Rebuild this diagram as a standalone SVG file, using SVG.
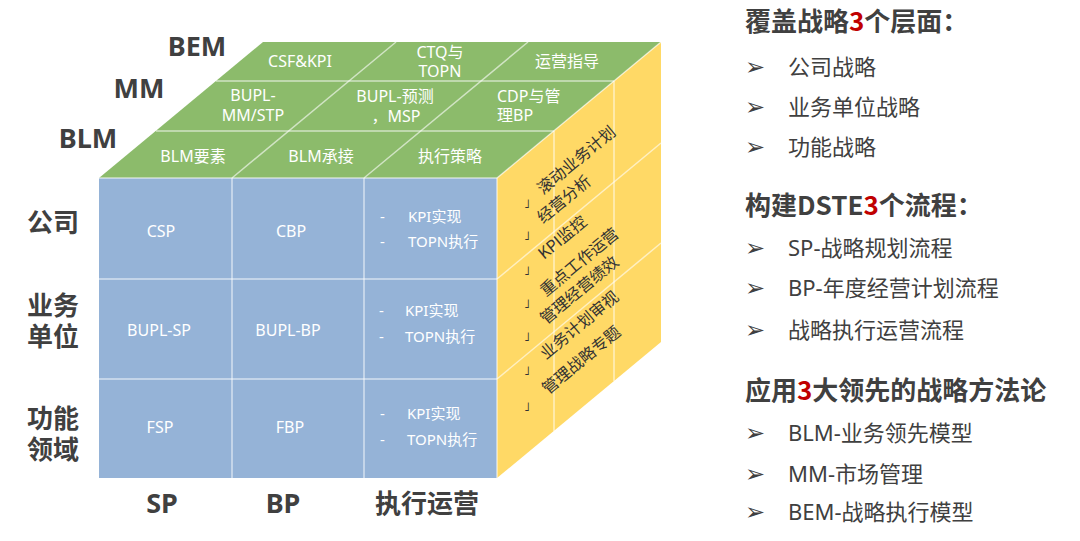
<svg xmlns="http://www.w3.org/2000/svg" width="1080" height="541" viewBox="0 0 1080 541">
<style>
.lbl{font-family:"Noto Sans","Noto Sans CJK SC",sans-serif;font-weight:bold;fill:#404040;font-size:27px;text-anchor:middle}
.lc{font-family:"Noto Sans CJK SC","Noto Sans",sans-serif;font-weight:bold;fill:#404040;font-size:26px;text-anchor:middle}
.w{font-family:"Noto Sans","Noto Sans CJK SC",sans-serif;fill:#ffffff;font-size:16px;text-anchor:middle}
.wf{font-family:"Noto Sans","Noto Sans CJK SC",sans-serif;fill:#ffffff;font-size:16px;text-anchor:middle}
.ws{font-family:"Noto Sans","Noto Sans CJK SC",sans-serif;fill:#ffffff;font-size:15px}
.wt{font-family:"Noto Sans","Noto Sans CJK SC",sans-serif;fill:#ffffff;font-size:16px}
.y{font-family:"Noto Sans CJK SC","Noto Sans",sans-serif;fill:#333333;font-size:16px}
.tick{font-family:"DejaVu Sans",sans-serif;fill:#333333;font-size:12px}
.grid{stroke:#ffffff;stroke-opacity:0.6;stroke-width:1.5;fill:none}
.h{font-family:"Noto Sans CJK SC","Noto Sans",sans-serif;font-weight:bold;fill:#404040;font-size:26px}
.red{fill:#c00000}
.it{font-family:"Noto Sans","Noto Sans CJK SC",sans-serif;fill:#404040;font-size:22px}
.bul{font-family:"DejaVu Sans",sans-serif;fill:#404040;font-size:24px}
</style>
<rect width="1080" height="541" fill="#ffffff"/>
<g id="cube">
<polygon id="top-face" points="99,178 263,42 661,42 497,178" fill="#8cbb6b"/>
<polygon id="right-face" points="497,178 661,42 661,342 497,478" fill="#ffd966"/>
<rect id="front-face" x="99" y="178" width="398" height="300" fill="#95b3d7"/>
</g>
<g id="connectors">
<line class="grid" x1="232" y1="178" x2="232" y2="478"/>
<line class="grid" x1="364" y1="178" x2="364" y2="478"/>
<line class="grid" x1="99" y1="279" x2="497" y2="279"/>
<line class="grid" x1="99" y1="379" x2="497" y2="379"/>
<line class="grid" x1="99" y1="178" x2="497" y2="178"/>
<line class="grid" x1="497" y1="178" x2="497" y2="478"/>
<line class="grid" x1="156" y1="131" x2="554" y2="131"/>
<line class="grid" x1="216" y1="81" x2="614" y2="81"/>
<line class="grid" x1="232" y1="178" x2="396" y2="42"/>
<line class="grid" x1="364" y1="178" x2="528" y2="42"/>
<line class="grid" x1="497" y1="178" x2="661" y2="42"/>
<line class="grid" x1="554" y1="131" x2="554" y2="431"/>
<line class="grid" x1="614" y1="81" x2="614" y2="381"/>
<line class="grid" x1="497" y1="279" x2="661" y2="143"/>
<line class="grid" x1="497" y1="379" x2="661" y2="243"/>
</g>
<g id="axis-labels">
<text class="lbl" x="197" y="56">BEM</text>
<text class="lbl" x="139" y="98">MM</text>
<text class="lbl" x="88" y="148">BLM</text>
<text class="lc" x="53" y="232">公司</text>
<text class="lc" x="53" y="315">业务<tspan x="53" dy="31">单位</tspan></text>
<text class="lc" x="53" y="428">功能<tspan x="53" dy="31">领域</tspan></text>
<text class="lbl" x="162" y="513">SP</text>
<text class="lbl" x="283" y="513">BP</text>
<text class="lc" x="427" y="513">执行运营</text>
</g>
<g id="top-cells">
<text class="w" x="300" y="67">CSF&amp;KPI</text>
<text class="w" x="440" y="58">CTQ与<tspan x="440" dy="19">TOPN</tspan></text>
<text class="w" x="567" y="67">运营指导</text>
<text class="w" x="253" y="101">BUPL-<tspan x="253" dy="20">MM/STP</tspan></text>
<text class="w" x="395" y="102">BUPL-预测<tspan x="396" dy="20">，MSP</tspan></text>
<text class="wt" x="497" y="102">CDP与管<tspan x="497" dy="19">理BP</tspan></text>
<text class="w" x="193" y="162">BLM要素</text>
<text class="w" x="321" y="162">BLM承接</text>
<text class="w" x="450" y="162">执行策略</text>
</g>
<g id="front-cells">
<text class="wf" x="161" y="237">CSP</text>
<text class="wf" x="291" y="237">CBP</text>
<text class="wf" x="159" y="336">BUPL-SP</text>
<text class="wf" x="288" y="336">BUPL-BP</text>
<text class="wf" x="160" y="433">FSP</text>
<text class="wf" x="290" y="433">FBP</text>
<g class="ws">
<text x="380" y="222">-</text><text x="408" y="222">KPI实现</text>
<text x="380" y="247">-</text><text x="408" y="247">TOPN执行</text>
<text x="379" y="316">-</text><text x="405" y="316">KPI实现</text>
<text x="379" y="342">-</text><text x="405" y="342">TOPN执行</text>
<text x="380" y="419">-</text><text x="407" y="419">KPI实现</text>
<text x="380" y="445">-</text><text x="407" y="445">TOPN执行</text>
</g>
</g>
<g id="right-cells">
<text class="tick" x="524" y="208">˩</text>
<text class="tick" x="524" y="240">˩</text>
<text class="tick" x="524" y="275">˩</text>
<text class="tick" x="524" y="308">˩</text>
<text class="tick" x="524" y="341">˩</text>
<text class="tick" x="524" y="375">˩</text>
<text class="tick" x="524" y="411">˩</text>
<text class="y" transform="translate(543,195) rotate(-39.7)">滚动业务计划</text>
<text class="y" transform="translate(543,224) rotate(-39.7)">经营分析</text>
<text class="y" transform="translate(544,260) rotate(-39.7)">KPI监控</text>
<text class="y" transform="translate(546,297) rotate(-39.7)">重点工作运营</text>
<text class="y" transform="translate(546,325) rotate(-39.7)">管理经营绩效</text>
<text class="y" transform="translate(546,360) rotate(-39.7)">业务计划审视</text>
<text class="y" transform="translate(548,395) rotate(-39.7)">管理战略专题</text>
</g>
<g id="summary">
<text class="h" x="745" y="31">覆盖战略<tspan class="red">3</tspan>个层面：</text>
<text class="bul" x="745" y="75">➢</text><text class="it" x="788" y="75">公司战略</text>
<text class="bul" x="745" y="115">➢</text><text class="it" x="788" y="115">业务单位战略</text>
<text class="bul" x="745" y="155">➢</text><text class="it" x="788" y="155">功能战略</text>
<text class="h" x="745" y="215">构建DSTE<tspan class="red">3</tspan>个流程：</text>
<text class="bul" x="745" y="256">➢</text><text class="it" x="788" y="256">SP-战略规划流程</text>
<text class="bul" x="745" y="296">➢</text><text class="it" x="788" y="296">BP-年度经营计划流程</text>
<text class="bul" x="745" y="338">➢</text><text class="it" x="788" y="338">战略执行运营流程</text>
<text class="h" x="745" y="400">应用<tspan class="red">3</tspan>大领先的战略方法论</text>
<text class="bul" x="745" y="441">➢</text><text class="it" x="788" y="441">BLM-业务领先模型</text>
<text class="bul" x="745" y="482">➢</text><text class="it" x="788" y="482">MM-市场管理</text>
<text class="bul" x="745" y="520">➢</text><text class="it" x="788" y="520">BEM-战略执行模型</text>
</g>
</svg>
